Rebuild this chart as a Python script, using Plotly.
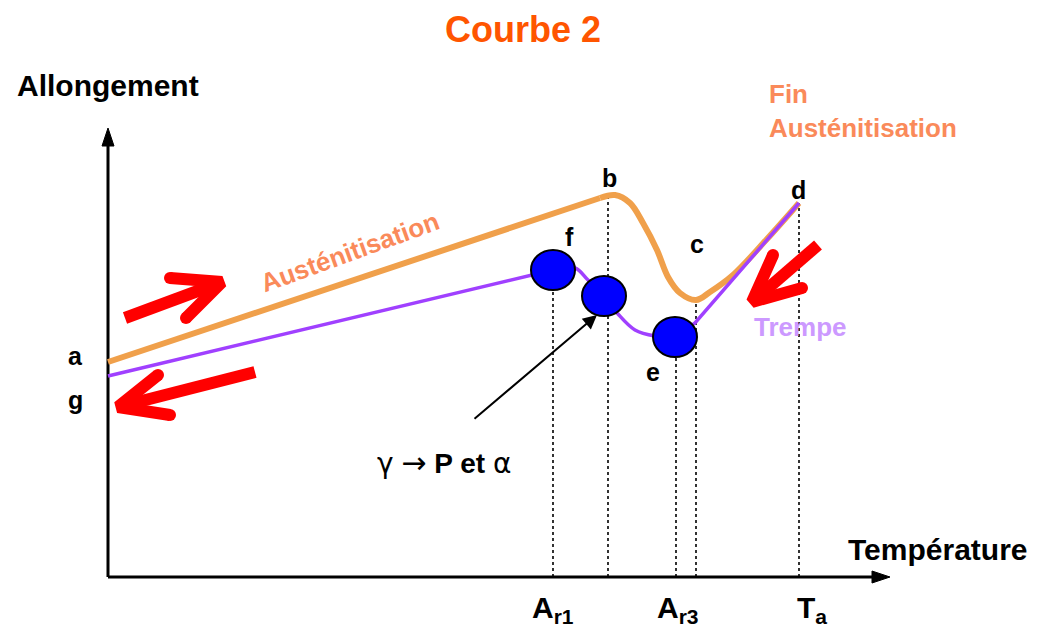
import plotly.graph_objects as go

# ---------------- data (schematic units: T = temperature, L = allongement) -------------
# heating curve (orange): a -> b -> c -> d
T_heat = [0, 492, 507, 522, 535, 549, 560, 572, 588, 602, 625, 659, 691]
L_heat = [215, 379, 382, 374, 354, 327, 300, 284, 277, 285, 302, 338, 374]

# cooling curve (purple): d -> e -> f -> g
T_cool = [0, 445, 467, 480, 496, 510, 527, 547, 567, 587, 691]
L_cool = [201, 307, 309, 297, 281, 263, 247, 241, 240, 254, 374]

# transformation points (blue discs)
T_disc = [445, 496, 567]
L_disc = [307, 281, 240]

# characteristic temperatures (dotted verticals) and their heights
T_mark = [445, 500, 568, 588, 691]
L_mark = [307, 382, 240, 277, 374]

# letters on curves
point_labels = ["a", "g", "b", "f", "c", "d", "e"]
T_plab = [-33, -33, 501, 461, 589, 690, 545]
L_plab = [221, 177, 399, 340, 333, 387, 205]

# temperature tick labels
tick_text = ["A<sub>r1</sub>", "A<sub>r3</sub>", "T<sub>a</sub>"]
T_tick = [422, 547, 687]

# red direction arrows: tail, tip, two arm ends
red_tail = [(17, 259), (147, 205), (710, 332)]
red_tip = [(114, 295), (10, 170), (644, 275)]
red_armA = [(62, 299), (50, 202), (665, 322)]
red_armB = [(78, 259), (62, 162), (694, 289)]

# axes extents
T_axis_end = 782
L_axis_end = 449

ORANGE = "#F0A04B"
PURPLE = "#A040FF"
FONT = "Liberation Sans, Arial, sans-serif"

fig = go.Figure()

# ---- axes (lines + filled arrowheads)
fig.add_trace(go.Scatter(x=[0, 0], y=[0, L_axis_end - 14], mode="lines",
                         line=dict(color="black", width=3), hoverinfo="skip"))
fig.add_trace(go.Scatter(x=[0, T_axis_end - 16], y=[0, 0], mode="lines",
                         line=dict(color="black", width=3), hoverinfo="skip"))
fig.add_trace(go.Scatter(x=[-6, 0, 6, -6], y=[L_axis_end - 18, L_axis_end, L_axis_end - 18, L_axis_end - 18],
                         mode="lines", fill="toself", fillcolor="black",
                         line=dict(color="black", width=1), hoverinfo="skip"))
fig.add_trace(go.Scatter(x=[T_axis_end - 18, T_axis_end, T_axis_end - 18, T_axis_end - 18], y=[6, 0, -6, 6],
                         mode="lines", fill="toself", fillcolor="black",
                         line=dict(color="black", width=1), hoverinfo="skip"))

# ---- dotted verticals
shapes = []
for t, l in zip(T_mark, L_mark):
    shapes.append(dict(type="line", xref="x", yref="y", x0=t, x1=t, y0=0, y1=l,
                       line=dict(color="black", width=1.6, dash="dot"), layer="below"))

# ---- heating curve
fig.add_trace(go.Scatter(x=T_heat[:2], y=L_heat[:2], mode="lines",
                         line=dict(color=ORANGE, width=6), hoverinfo="skip"))
fig.add_trace(go.Scatter(x=T_heat[1:], y=L_heat[1:], mode="lines",
                         line=dict(color=ORANGE, width=6, shape="spline", smoothing=1.0),
                         hoverinfo="skip"))

# ---- cooling curve
fig.add_trace(go.Scatter(x=T_cool[:2], y=L_cool[:2], mode="lines",
                         line=dict(color=PURPLE, width=3.5), hoverinfo="skip"))
fig.add_trace(go.Scatter(x=T_cool[1:9], y=L_cool[1:9], mode="lines",
                         line=dict(color=PURPLE, width=3.5, shape="spline", smoothing=1.0),
                         hoverinfo="skip"))
fig.add_trace(go.Scatter(x=T_cool[8:], y=L_cool[8:], mode="lines",
                         line=dict(color=PURPLE, width=3.5), hoverinfo="skip"))

# ---- blue discs
RX, RY = 22, 20
for t, l in zip(T_disc, L_disc):
    shapes.append(dict(type="circle", xref="x", yref="y", x0=t - RX, x1=t + RX,
                       y0=l - RY, y1=l + RY, fillcolor="#0000FF",
                       line=dict(color="black", width=2), layer="above"))

# ---- red arrows
for (tx, ty), (px, py), (ax_, ay_), (bx, by) in zip(red_tail, red_tip, red_armA, red_armB):
    fig.add_trace(go.Scatter(x=[tx, px], y=[ty, py], mode="lines",
                             line=dict(color="#FF0000", width=12), hoverinfo="skip"))
    fig.add_trace(go.Scatter(x=[ax_, px, bx], y=[ay_, py, by], mode="lines",
                             line=dict(color="#FF0000", width=12), hoverinfo="skip"))
    fig.add_trace(go.Scatter(x=[ax_, bx], y=[ay_, by], mode="markers",
                             marker=dict(color="#FF0000", size=12, line=dict(width=0)),
                             hoverinfo="skip"))

annotations = []

def txt(x, y, text, size, color="black", **kw):
    d = dict(x=x, y=y, xref="x", yref="y", text=text, showarrow=False,
             font=dict(family=FONT, size=size, color=color, weight="bold"))
    d.update(kw)
    annotations.append(d)

# title and axis titles
txt(415, 569, "Courbe 2", 36, "#FF5500", yanchor="top", borderpad=0)
txt(0, 492, "Allongement", 30)
txt(830, 28, "Température", 30)

# point letters
for s, t, l in zip(point_labels, T_plab, L_plab):
    txt(t, l, s, 25)

# tick labels
for s, t in zip(tick_text, T_tick):
    txt(t, -32, s, 30, xanchor="left")

# curve captions
txt(242, 325, "Austénitisation", 26, "#FA8A5A", textangle=-20)
txt(659, 466, "Fin<br>Austénitisation", 26, "#FA8A5A", xanchor="left", align="left")
txt(692, 250, "Trempe", 26, "#CC99FF")

# transformation caption
SYM = "font-family:DejaVu Sans"
annotations.append(dict(x=336, y=115, xref="x", yref="y", showarrow=False,
                        text=(f"<span style='{SYM};font-size:28px'>γ</span> "
                              f"<span style='{SYM};font-size:30px'>→</span> <b>P et</b> "
                              f"<span style='{SYM};font-size:28px'>α</span>"),
                        font=dict(family=FONT, size=28, color="black")))

# black pointer arrow
annotations.append(dict(x=489, y=262, ax=365, ay=157, xref="x", yref="y",
                        axref="x", ayref="y", text="", showarrow=True,
                        arrowhead=2, arrowsize=1.4, arrowwidth=2, arrowcolor="black"))

# page body has an 8 px margin: figure occupies page pixels 8..1037
fig.update_layout(
    width=1029, height=624,
    margin=dict(l=0, r=0, t=0, b=0),
    paper_bgcolor="white", plot_bgcolor="white",
    showlegend=False,
    xaxis=dict(visible=False, range=[-100, 929], fixedrange=True),
    yaxis=dict(visible=False, range=[-55, 569], fixedrange=True),
    shapes=shapes,
    annotations=annotations,
)

fig.write_html("out.html", config={"displayModeBar": False})
